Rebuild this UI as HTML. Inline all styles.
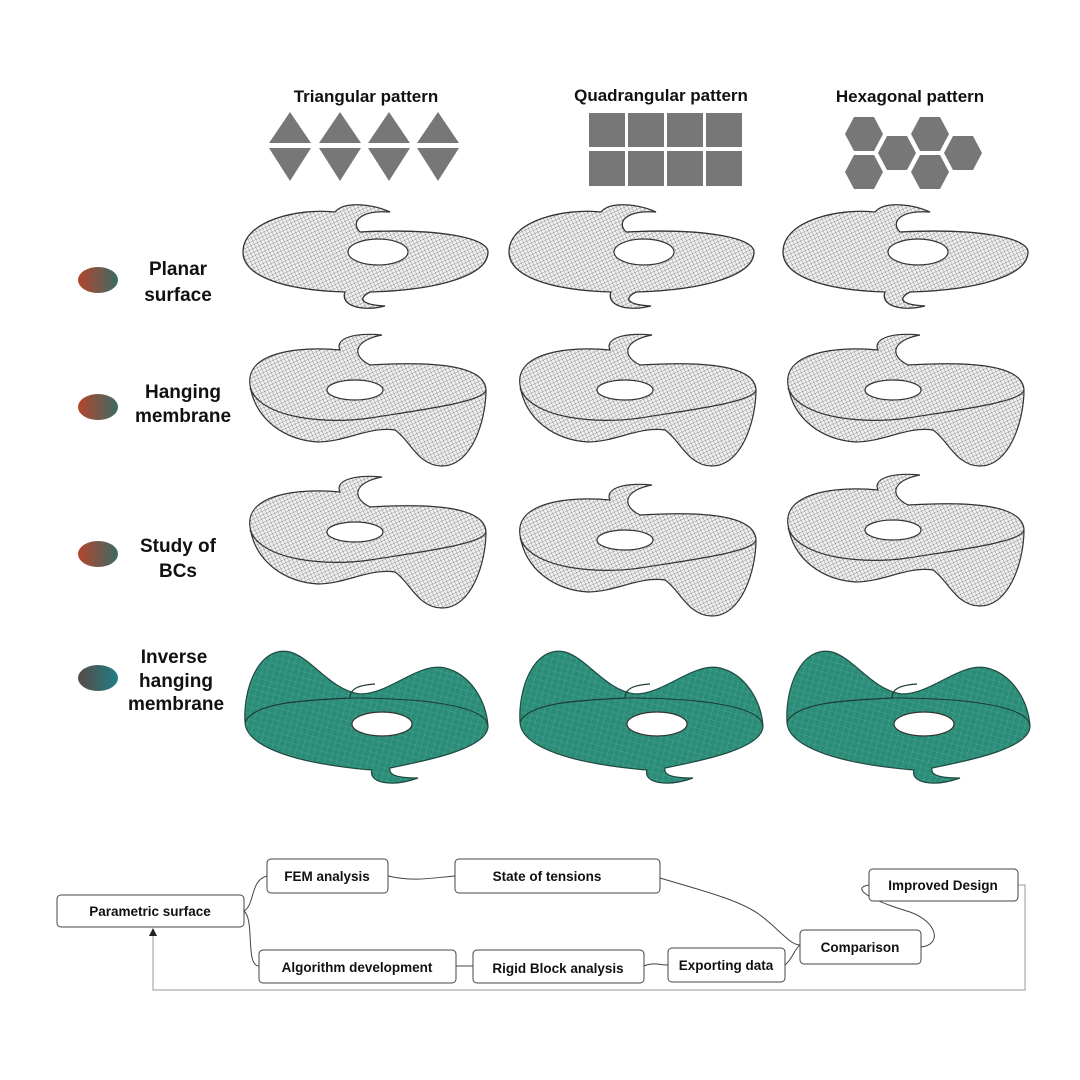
<!DOCTYPE html>
<html><head><meta charset="utf-8"><style>
html,body{margin:0;padding:0;background:#fff}
svg{display:block}
text{font-family:"Liberation Sans",sans-serif}
</style></head><body>
<svg width="1080" height="1080" viewBox="0 0 1080 1080" xmlns="http://www.w3.org/2000/svg">
<defs>
<pattern id="mesh" width="5" height="5" patternUnits="userSpaceOnUse" patternTransform="rotate(20)">
<rect width="5" height="5" fill="#f0f0f0"/>
<path d="M0,0L5,5M5,0L0,5" stroke="#808080" stroke-width="0.5"/>
</pattern>
<pattern id="gmesh" width="6" height="6" patternUnits="userSpaceOnUse" patternTransform="rotate(15)">
<rect width="6" height="6" fill="#2b8c78"/>
<path d="M0,0H6M0,0V6" stroke="#5db5a2" stroke-width="0.6"/>
</pattern>
<linearGradient id="og" x1="0" x2="1"><stop offset="0" stop-color="#b3452c"/><stop offset="1" stop-color="#3b6a66"/></linearGradient>
<linearGradient id="og2" x1="0" x2="1"><stop offset="0" stop-color="#5a4a44"/><stop offset="1" stop-color="#1f7d86"/></linearGradient>
<g id="planar">
<path d="M243,252 C243,220 300,208 335,212 C345,200 375,205 390,212 C360,210 350,222 360,232 C440,228 488,238 488,252 C488,275 440,290 370,292 C355,300 365,305 385,306 C360,312 340,305 345,292 C280,290 243,275 243,252 Z" fill="url(#mesh)" stroke="#333" stroke-width="1.3"/>
<ellipse cx="378" cy="252" rx="30" ry="13" fill="#fff" stroke="#333" stroke-width="1.2"/>
</g>
<g id="hang">
<path d="M250,385 C245,352 300,346 340,350 C335,340 350,332 382,335 C355,340 350,355 370,365 C420,362 485,362 486,390 C486,420 472,466 442,466 C418,466 410,440 395,430 C370,426 345,442 318,442 C285,440 255,420 250,385 Z" fill="url(#mesh)" stroke="#333" stroke-width="1.2"/>
<path d="M250,388 C262,420 330,424 370,418 C420,410 484,402 486,390" fill="none" stroke="#333" stroke-width="1.2"/>
<ellipse cx="355" cy="390" rx="28" ry="10" fill="#fff" stroke="#333" stroke-width="1.2"/>
</g>
<g id="inv">
<path d="M245,722 C243,690 258,645 290,652 C312,658 330,690 360,694 C390,694 418,662 445,668 C470,674 486,700 488,726 C488,748 430,760 390,768 C388,776 400,778 418,778 C390,788 368,782 372,770 C300,764 246,748 245,722 Z" fill="url(#gmesh)" stroke="#1f4a40" stroke-width="1.2"/>
<path d="M245,722 C255,700 320,700 350,698 C350,688 360,685 375,684" fill="none" stroke="#1f3a34" stroke-width="1.2"/>
<path d="M350,698 C420,698 486,705 488,726" fill="none" stroke="#1f3a34" stroke-width="1"/>
<ellipse cx="382" cy="724" rx="30" ry="12" fill="#fff" stroke="#333" stroke-width="1.2"/>
</g>
</defs>

<g font-weight="bold" font-size="17" text-anchor="middle" fill="#111">
<text x="366" y="102">Triangular pattern</text>
<text x="661" y="101">Quadrangular pattern</text>
<text x="910" y="102">Hexagonal pattern</text>
</g>
<g fill="#777">
<path d="M290,112 L311,143 L269,143Z M340,112 L361,143 L319,143Z M389,112 L410,143 L368,143Z M438,112 L459,143 L417,143Z"/>
<path d="M269,148 L311,148 L290,181Z M319,148 L361,148 L340,181Z M368,148 L410,148 L389,181Z M417,148 L459,148 L438,181Z"/>
<rect x="589" y="113" width="36" height="34"/><rect x="628" y="113" width="36" height="34"/><rect x="667" y="113" width="36" height="34"/><rect x="706" y="113" width="36" height="34"/>
<rect x="589" y="151" width="36" height="35"/><rect x="628" y="151" width="36" height="35"/><rect x="667" y="151" width="36" height="35"/><rect x="706" y="151" width="36" height="35"/>
<g id="hx"><path d="M-19,0 L-10,-17 L10,-17 L19,0 L10,17 L-10,17Z" transform="translate(864,134)"/></g>
<use href="#hx" x="66" y="0"/><use href="#hx" x="33" y="19"/><use href="#hx" x="99" y="19"/><use href="#hx" x="0" y="38"/><use href="#hx" x="66" y="38"/>
</g>

<ellipse cx="98" cy="280" rx="20" ry="13" fill="url(#og)"/>
<ellipse cx="98" cy="407" rx="20" ry="13" fill="url(#og)"/>
<ellipse cx="98" cy="554" rx="20" ry="13" fill="url(#og)"/>
<ellipse cx="98" cy="678" rx="20" ry="13" fill="url(#og2)"/>
<g font-weight="bold" font-size="19" text-anchor="middle" fill="#111">
<text x="178" y="275">Planar</text><text x="178" y="301">surface</text>
<text x="183" y="398">Hanging</text><text x="183" y="422">membrane</text>
<text x="178" y="552">Study of</text><text x="178" y="577">BCs</text>
<text x="174" y="663">Inverse</text><text x="176" y="687">hanging</text><text x="176" y="710">membrane</text>
</g>

<use href="#planar"/><use href="#planar" x="266"/><use href="#planar" x="540"/>
<use href="#hang"/><use href="#hang" x="270"/><use href="#hang" x="538"/>
<use href="#hang" y="142"/><use href="#hang" x="270" y="150"/><use href="#hang" x="538" y="140"/>
<use href="#inv"/><use href="#inv" x="275"/><use href="#inv" x="542"/>

<g fill="none" stroke="#444" stroke-width="1">
<path d="M244,911 C255,905 250,880 267,876"/>
<path d="M244,911 C255,920 245,966 259,966"/>
<path d="M388,876 C415,882 430,878 455,876"/>
<path d="M660,878 C700,890 740,900 760,915 C780,930 790,945 800,945"/>
<path d="M785,965 C792,960 795,948 800,945"/>
<path d="M644,966 C652,962 660,965 668,965"/>
<path d="M456,966 L473,966"/>
<path d="M921,947 C942,945 938,922 910,912 C870,900 850,888 869,885"/>
<path d="M1018,885 L1025,885 L1025,990 L153,990 L153,934" stroke="#999"/>
</g>
<path d="M153,928 L149,936 L157,936Z" fill="#222"/>
<g fill="#fff" stroke="#444" stroke-width="1">
<rect x="57" y="895" width="187" height="32" rx="4"/>
<rect x="267" y="859" width="121" height="34" rx="4"/>
<rect x="455" y="859" width="205" height="34" rx="4"/>
<rect x="869" y="869" width="149" height="32" rx="4"/>
<rect x="800" y="930" width="121" height="34" rx="4"/>
<rect x="259" y="950" width="197" height="33" rx="4"/>
<rect x="473" y="950" width="171" height="33" rx="4"/>
<rect x="668" y="948" width="117" height="34" rx="4"/>
</g>
<g font-weight="bold" font-size="13.5" text-anchor="middle" fill="#111">
<text x="150" y="916">Parametric surface</text>
<text x="327" y="881">FEM analysis</text>
<text x="547" y="881">State of tensions</text>
<text x="943" y="890">Improved Design</text>
<text x="860" y="952">Comparison</text>
<text x="357" y="972">Algorithm development</text>
<text x="558" y="973">Rigid Block analysis</text>
<text x="726" y="970">Exporting data</text>
</g>
</svg>
</body></html>
